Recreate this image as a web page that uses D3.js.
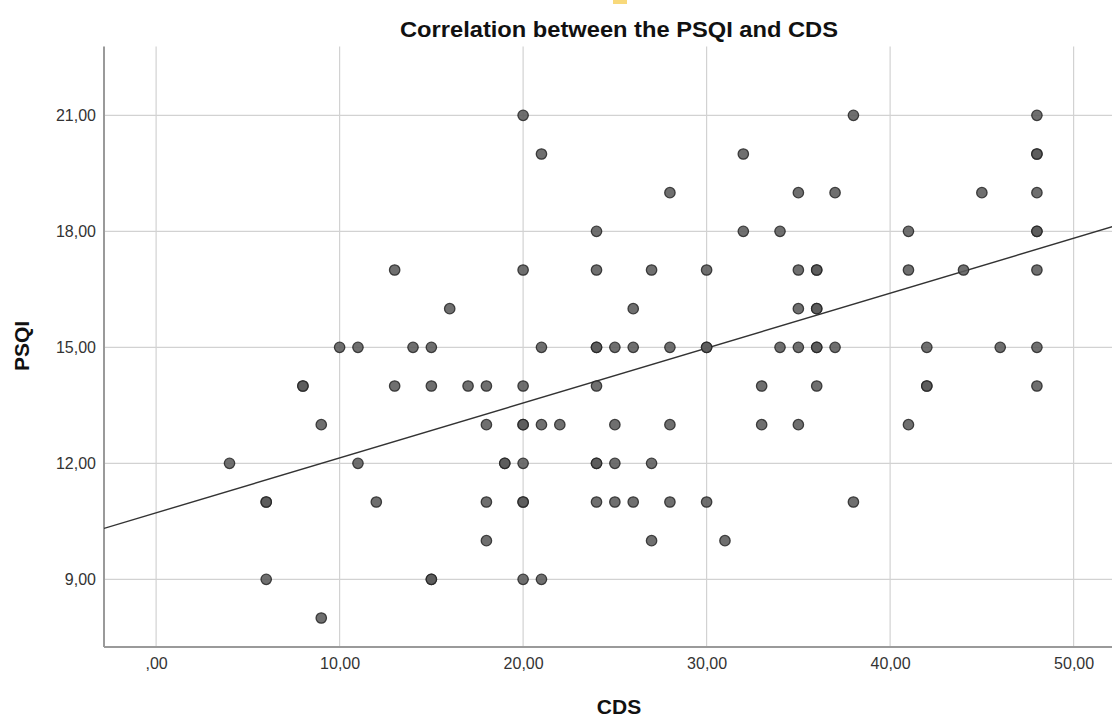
<!DOCTYPE html>
<html>
<head>
<meta charset="utf-8">
<script src="https://cdn.jsdelivr.net/npm/d3@7"></script>
<style>
  html, body { margin: 0; padding: 0; background: #fff; }
  svg { display: block; }
  text { font-family: "Liberation Sans", Arial, sans-serif; }
</style>
</head>
<body>
<svg id="chart" width="1112" height="718"></svg>
<script>
// ---- Data (CDS, PSQI); repeated pairs are overlapping cases ----
const cds = [
  20, 38, 48,
  21, 32, 48, 48,
  28, 35, 37, 45, 48,
  24, 32, 34, 41, 48, 48,
  13, 20, 24, 27, 30, 35, 36, 36, 41, 44, 48,
  16, 26, 35, 36, 36,
  10, 11, 14, 15, 21, 24, 24, 25, 26, 28, 30, 30, 34, 35, 36, 36, 37, 42, 46, 48,
  8, 8, 13, 15, 17, 18, 20, 24, 33, 36, 42, 42, 48,
  9, 18, 20, 20, 21, 22, 25, 28, 33, 35, 41,
  4, 11, 19, 19, 20, 24, 24, 25, 27,
  6, 6, 12, 18, 20, 20, 24, 25, 26, 28, 30, 38,
  18, 27, 31,
  6, 15, 15, 20, 21,
  9
];
const psqi = [
  21, 21, 21,
  20, 20, 20, 20,
  19, 19, 19, 19, 19,
  18, 18, 18, 18, 18, 18,
  17, 17, 17, 17, 17, 17, 17, 17, 17, 17, 17,
  16, 16, 16, 16, 16,
  15, 15, 15, 15, 15, 15, 15, 15, 15, 15, 15, 15, 15, 15, 15, 15, 15, 15, 15, 15,
  14, 14, 14, 14, 14, 14, 14, 14, 14, 14, 14, 14, 14,
  13, 13, 13, 13, 13, 13, 13, 13, 13, 13, 13,
  12, 12, 12, 12, 12, 12, 12, 12, 12,
  11, 11, 11, 11, 11, 11, 11, 11, 11, 11, 11, 11,
  10, 10, 10,
  9, 9, 9, 9, 9,
  8
];
const xTicks = [0, 10, 20, 30, 40, 50];
const yTicks = [9, 12, 15, 18, 21];
const fitIntercept = 10.72;   // fit line
const fitSlope = 0.142;

const title = "Correlation between the PSQI and CDS";
const xLabel = "CDS";
const yLabel = "PSQI";

(function draw() {
  const svg = d3.select("#chart");
  const W = 1112;
  const pLeft = 104, pTop = 46.5, pBottom = 647;
  const x = d3.scaleLinear().domain([-2.84, 53]).range([pLeft, pLeft + 55.84 * 18.35]);
  const y = d3.scaleLinear().domain([7.25, 22.78]).range([pBottom, pTop]);
  const fmt = v => {
    const s = d3.format(".2f")(v).replace(".", ",");
    return s.startsWith("0,") ? s.slice(1) : s;
  };

  // small yellow mark at the top
  svg.append("rect").attr("x", 613).attr("y", 0).attr("width", 14).attr("height", 4)
    .attr("fill", "#f6cf5a").attr("opacity", 0.8);

  svg.append("clipPath").attr("id", "plotclip").append("rect")
    .attr("x", pLeft).attr("y", pTop).attr("width", W - pLeft).attr("height", pBottom - pTop);

  // grid
  const grid = svg.append("g").attr("stroke", "#d2d2d2").attr("stroke-width", 1.2);
  grid.selectAll("line.v").data(xTicks).join("line").attr("class", "v")
    .attr("x1", d => x(d)).attr("x2", d => x(d)).attr("y1", pTop).attr("y2", pBottom);
  grid.selectAll("line.h").data(yTicks).join("line").attr("class", "h")
    .attr("y1", d => y(d)).attr("y2", d => y(d)).attr("x1", pLeft).attr("x2", W);

  // axes (no tick marks)
  const xAxis = svg.append("g").attr("transform", `translate(0,${pBottom})`)
    .call(d3.axisBottom(x).tickValues(xTicks).tickFormat(fmt).tickSize(0).tickPadding(11));
  const yAxis = svg.append("g").attr("transform", `translate(${pLeft},0)`)
    .call(d3.axisLeft(y).tickValues(yTicks).tickFormat(fmt).tickSize(0).tickPadding(8));
  [xAxis, yAxis].forEach(a => {
    a.select(".domain").attr("stroke", "#9a9a9a").attr("stroke-width", 2);
    a.selectAll("text").attr("fill", "#333").attr("font-size", 16)
      .attr("font-family", "'Liberation Sans', Arial, sans-serif");
  });
  xAxis.select(".domain").attr("d", `M${pLeft},0H${W}`);
  yAxis.select(".domain").attr("d", `M0,${pTop}V${pBottom}`);

  // fit line
  const xd = x.domain();
  svg.append("line").attr("clip-path", "url(#plotclip)")
    .attr("x1", x(xd[0])).attr("y1", y(fitIntercept + fitSlope * xd[0]))
    .attr("x2", x(xd[1])).attr("y2", y(fitIntercept + fitSlope * xd[1]))
    .attr("stroke", "#333").attr("stroke-width", 1.4);

  // points
  const pts = cds.map((c, i) => ({ c, p: psqi[i] }));
  svg.append("g").selectAll("circle").data(pts).join("circle")
    .attr("cx", d => x(d.c)).attr("cy", d => y(d.p)).attr("r", 5.2)
    .attr("fill", "#5b5b5b").attr("fill-opacity", 0.88)
    .attr("stroke", "#262626").attr("stroke-opacity", 0.85).attr("stroke-width", 1.3);

  // titles
  svg.append("text").attr("x", 619).attr("y", 37).attr("text-anchor", "middle")
    .attr("font-size", 22).attr("font-weight", "bold").attr("fill", "#111")
    .attr("textLength", 438).attr("lengthAdjust", "spacingAndGlyphs").text(title);
  svg.append("text").attr("x", 619).attr("y", 714).attr("text-anchor", "middle")
    .attr("font-size", 21).attr("font-weight", "bold").attr("fill", "#111").text(xLabel);
  svg.append("text").attr("transform", "translate(29,346) rotate(-90)").attr("text-anchor", "middle")
    .attr("font-size", 21).attr("font-weight", "bold").attr("fill", "#111").text(yLabel);
})();
</script>
</body>
</html>
